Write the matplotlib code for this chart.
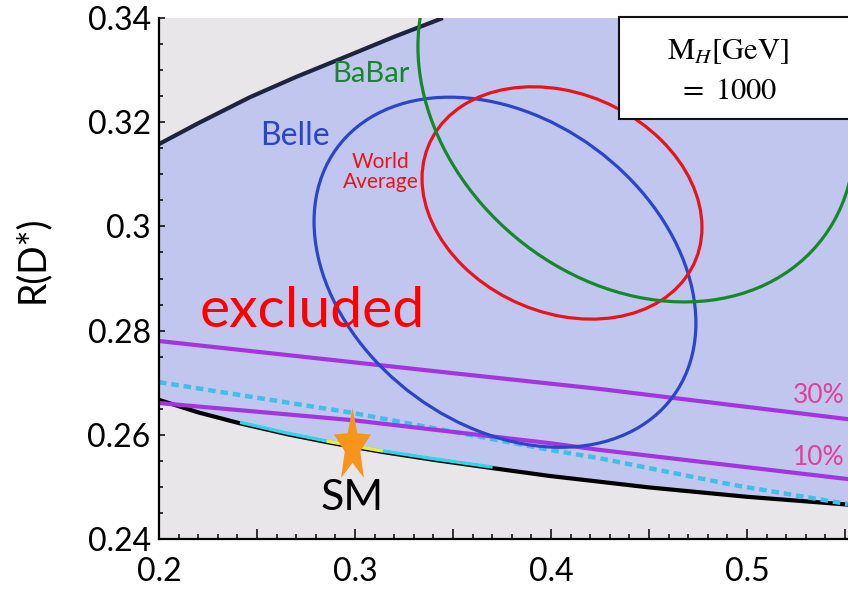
"""R(D) vs R(D*) plane with experimental ellipses and the allowed band."""

import numpy as np
import matplotlib
matplotlib.use("Agg")
import matplotlib.pyplot as plt
from matplotlib.patches import Circle, Rectangle
from matplotlib.path import Path
from matplotlib.transforms import Affine2D
from matplotlib.ticker import FixedLocator, MultipleLocator

plt.rcParams["font.family"] = ["Lato", "DejaVu Sans"]
plt.rcParams["mathtext.fontset"] = "stix"

XLIM = (0.2, 0.5515)
YLIM = (0.24, 0.34)

# lower boundary of the band
low_x = [0.2, 0.22, 0.2413, 0.2656, 0.2856, 0.2989, 0.3142, 0.34, 0.3702, 0.3993, 0.45, 0.5, 0.5515]
low_y = [0.2667, 0.2643, 0.2622, 0.2601, 0.2586, 0.2577, 0.2567, 0.2552, 0.2536, 0.2521, 0.2499, 0.2481, 0.2466]

# upper boundary
up_x = [0.2, 0.22, 0.2464, 0.27, 0.2974, 0.32, 0.3448]
up_y = [0.3158, 0.3198, 0.3248, 0.3287, 0.3329, 0.3364, 0.34]

# coloured pieces of the lower boundary
cyan_range = (0.2413, 0.3702)
yellow_range = (0.2856, 0.3142)

# dashed cyan line
dash_x = [0.2, 0.2989, 0.3993, 0.4248, 0.4926, 0.5515]
dash_y = [0.2701, 0.2642, 0.2571, 0.2555, 0.2504, 0.2467]

# purple lines (30% and 10%)
p30_x = [0.2, 0.3483, 0.4248, 0.5515]
p30_y = [0.2780, 0.2719, 0.2688, 0.2630]
p10_x = [0.2, 0.2989, 0.3993, 0.4248, 0.5515]
p10_y = [0.2661, 0.2628, 0.2584, 0.2571, 0.2515]

# ellipses: name, centre x, centre y, sigma x, sigma y, correlation, colour
ellipses = [
    ("Belle", 0.3765, 0.2912, 0.0974, 0.0336, -0.29, "#2b45c8"),
    ("World Average", 0.4056, 0.3045, 0.0714, 0.0223, -0.21, "#e8141c"),
    ("BaBar", 0.4435, 0.3257, 0.1114, 0.0402, -0.22, "#15892a"),
]

sm_point = (0.2985, 0.2578)

fig = plt.figure(figsize=(8.48, 6.0), dpi=100)
ax = fig.add_axes([159 / 848, 61 / 600, 689 / 848, 521 / 600])
ax.set_xlim(*XLIM)
ax.set_ylim(*YLIM)
ax.set_facecolor("#e8e6e8")

# allowed band
band_x = low_x + [XLIM[1]] + up_x[::-1]
band_y = low_y + [YLIM[1]] + up_y[::-1]
ax.fill(band_x, band_y, color="#c0c6ee", lw=0, zorder=1)

ax.plot(up_x, up_y, color="#1e2340", lw=3.0, zorder=3, solid_capstyle="butt")
ax.plot(low_x, low_y, color="black", lw=3.0, zorder=3)

lx = np.array(low_x)
ly = np.array(low_y)
m = (lx >= cyan_range[0]) & (lx <= cyan_range[1])
ax.plot(lx[m], ly[m] + 0.0002, color="#2fd6e6", lw=2.4, zorder=4, solid_capstyle="butt")
m = (lx >= yellow_range[0]) & (lx <= yellow_range[1])
ax.plot(lx[m], ly[m] + 0.0002, color="#e6ee3a", lw=2.4, zorder=5, solid_capstyle="butt")

ax.plot(dash_x, dash_y, color="#3ec0e8", lw=3.2, dashes=(1.7, 1.1), zorder=3)
ax.plot(p30_x, p30_y, color="#a434e0", lw=3.0, zorder=3)
ax.plot(p10_x, p10_y, color="#a434e0", lw=3.0, zorder=3)

for name, cx, cy, sx, sy, rho, col in ellipses:
    tr = Affine2D().from_values(sx, sy * rho, 0, sy * np.sqrt(1 - rho ** 2), cx, cy)
    circ = Circle((0, 0), 1.0, transform=tr + ax.transData, fill=False,
                  edgecolor=col, lw=2.3, zorder=6)
    ax.add_patch(circ)

# tall orange star for the SM point
ang = np.pi / 2 + np.arange(10) * np.pi / 5
rad = np.where(np.arange(10) % 2 == 0, 1.0, 0.42)
star_verts = np.column_stack([rad * np.cos(ang), 2.0 * rad * np.sin(ang)])
star = Path(np.vstack([star_verts, star_verts[:1]]), closed=True)
ax.plot(*sm_point, marker=star, ms=56, color="#f7941d", mec="none", zorder=8)

# texts
ax.text(0.2985, 0.2479, "SM", fontsize=31, ha="center", va="center", zorder=9)
ax.text(0.2780, 0.2807, "excluded", fontsize=41, color="#ff0000",
        ha="center", va="baseline", zorder=9)
ax.text(0.2693, 0.3156, "Belle", fontsize=23, color="#2b45c8",
        ha="center", va="baseline", zorder=9)
ax.text(0.3081, 0.3277, "BaBar", fontsize=21, color="#15892a",
        ha="center", va="baseline", zorder=9)
ax.text(0.3131, 0.3104, "World\nAverage", fontsize=15, color="#e8141c",
        ha="center", va="center", linespacing=1.0, zorder=9)
ax.text(0.5497, 0.2676, "30%", fontsize=19, color="#e0409c",
        ha="right", va="center", zorder=9)
ax.text(0.5497, 0.2557, "10%", fontsize=19, color="#e0409c",
        ha="right", va="center", zorder=9)

# M_H box
ax.add_patch(Rectangle((0.6676, 0.806), 0.5, 0.196, transform=ax.transAxes,
                       facecolor="white", edgecolor="#111111", lw=1.5,
                       zorder=10, clip_on=False))
ax.text(0.826, 0.935, r"M$_{H}$[GeV]", transform=ax.transAxes, fontsize=22,
        family="STIXGeneral", ha="center", va="center", zorder=11)
ax.text(0.826, 0.862, r"$=\ 1000$", transform=ax.transAxes, fontsize=22,
        ha="center", va="center", zorder=11)

# axes frame and ticks
for s in ("top", "right"):
    ax.spines[s].set_visible(False)
for s in ("left", "bottom"):
    ax.spines[s].set_linewidth(1.6)
    ax.spines[s].set_zorder(12)

xticks = [0.2, 0.25, 0.3, 0.35, 0.4, 0.45, 0.5, 0.55]
xlabels = ["0.2", "", "0.3", "", "0.4", "", "0.5", ""]
ax.xaxis.set_major_locator(FixedLocator(xticks))
ax.set_xticklabels(xlabels)
ax.xaxis.set_minor_locator(MultipleLocator(0.01))

yticks = [0.24, 0.26, 0.28, 0.30, 0.32, 0.34]
ylabels = ["0.24", "0.26", "0.28", "0.3", "0.32", "0.34"]
ax.yaxis.set_major_locator(FixedLocator(yticks))
ax.set_yticklabels(ylabels)
ax.yaxis.set_minor_locator(MultipleLocator(0.005))

ax.tick_params(axis="both", which="both", direction="in", top=False, right=False,
               labelsize=23, width=1.1, colors="black")
ax.tick_params(axis="x", which="major", length=7, pad=13)
ax.tick_params(axis="x", which="minor", length=3.5)
ax.tick_params(axis="y", which="major", length=4, pad=6)
ax.tick_params(axis="y", which="minor", length=3)

fig.text(32 / 848, 1 - 259 / 600, "R(D*)", fontsize=27, rotation=90,
         ha="center", va="center")

fig.savefig("out.png", dpi=100)
